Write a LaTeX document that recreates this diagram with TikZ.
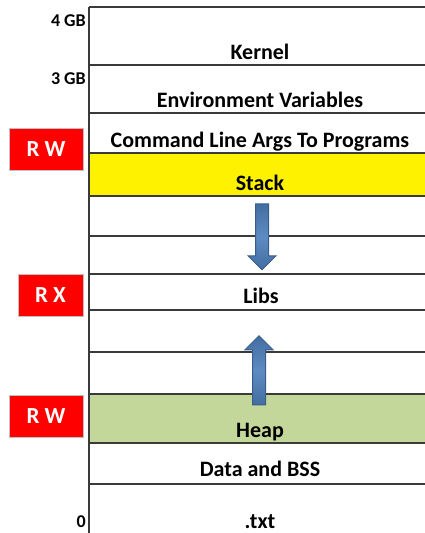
\documentclass[tikz,border=0pt]{standalone}
\usepackage{fontspec}
\setmainfont{Carlito}
\usetikzlibrary{shapes.arrows}
\definecolor{heapgreen}{HTML}{C4D79B}
\definecolor{arrowblue}{HTML}{4F81BD}
\definecolor{arrowedge}{HTML}{385D8A}
\definecolor{rowline}{HTML}{3A3A3A}

\begin{document}
\begin{tikzpicture}[x=1pt,y=-1pt]
\tikzset{seg/.style={anchor=base, inner sep=0pt, font=\bfseries\fontsize{22}{24}\selectfont}}
\tikzset{addr/.style={anchor=base east, inner sep=0pt, font=\bfseries\fontsize{18}{20}\selectfont}}
\tikzset{perm/.style={fill=red, draw=black!25, text=white, minimum width=74pt, minimum height=42pt, inner sep=0pt, font=\bfseries\fontsize{23}{25}\selectfont}}
\tikzset{growarrow/.style={single arrow, draw=arrowedge, top color=arrowblue!85!black, bottom color=arrowblue!85!black, middle color=arrowblue!92!white, line width=1pt, inner sep=6pt, single arrow head extend=7.5pt, minimum height=66pt}}
\useasboundingbox (0,0) rectangle (425,533);
\fill[yellow] (89,153) rectangle (425,196);
\fill[heapgreen] (89,394) rectangle (425,443);
\foreach \y in {7,65,113,153,196,236,274,310,352,394,443,484}
  \draw[rowline, line width=1.6pt] (89,\y) -- (425,\y);
\draw[rowline, line width=1.8pt] (89,7) -- (89,533);
\node[addr] (top) at (86,26) {4 GB};
\node[addr] (kspace) at (86,84) {3 GB};
\node[addr] (zero) at (86,527) {0};
\node[seg] (kernel) at (260,59) {Kernel};
\node[seg] (env) at (260,107) {Environment Variables};
\node[seg] (args) at (260,147) {Command Line Args To Programs};
\node[seg] (stack) at (260,190) {Stack};
\node[seg] (libs) at (261,303) {Libs};
\node[seg] (heap) at (260,437) {Heap};
\node[seg] (data) at (260,476) {Data and BSS};
\node[seg] (text) at (260,528) {.txt};
\node[perm] (rwstack) at (46,149) {R W};
\node[perm, minimum width=65pt] (rxlibs) at (50.5,295.5) {R X};
\node[perm] (rwheap) at (46,416.5) {R W};
\node[growarrow, rotate=-90] (down) at (262,233.5) {};
\node[growarrow, rotate=90, minimum height=69pt] (up) at (259,373.5) {};
\end{tikzpicture}
\end{document}
